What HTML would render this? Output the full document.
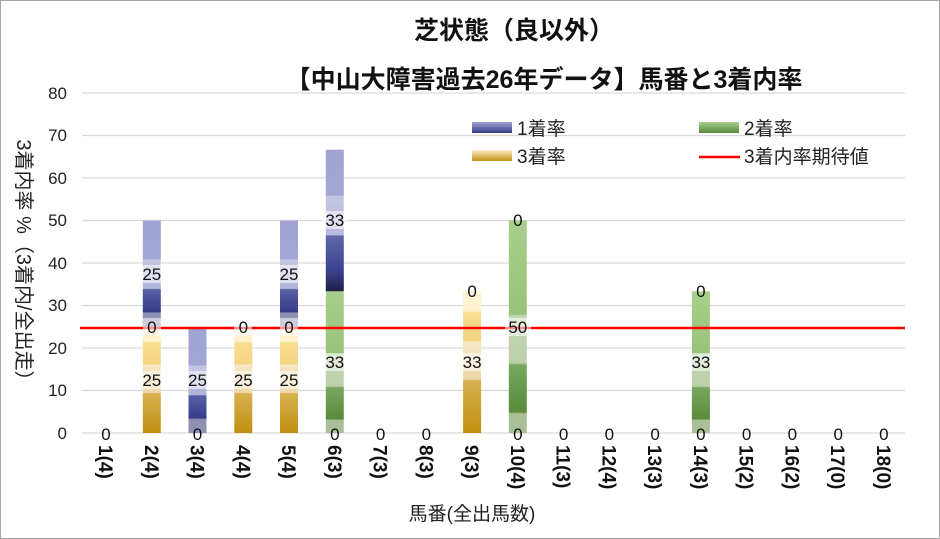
<!DOCTYPE html>
<html><head><meta charset="utf-8"><style>
html,body{margin:0;padding:0;background:#fff}
svg{display:block;font-family:"Liberation Sans","Noto Sans CJK JP",sans-serif}
</style></head><body>
<svg width="940" height="539" viewBox="0 0 940 539" xmlns="http://www.w3.org/2000/svg">
<defs>
<linearGradient id="gb" x1="0" y1="0" x2="0" y2="1">
<stop offset="0" stop-color="#a0a4d2"/><stop offset="0.36" stop-color="#a2a6d4"/>
<stop offset="0.37" stop-color="#c4c6e2"/><stop offset="0.64" stop-color="#b0b2d8"/>
<stop offset="0.65" stop-color="#5860a6"/><stop offset="0.86" stop-color="#363c88"/>
<stop offset="0.87" stop-color="#8a8eb0"/><stop offset="1" stop-color="#9094b4"/>
</linearGradient>
<linearGradient id="gb2" x1="0" y1="0" x2="0" y2="1">
<stop offset="0" stop-color="#a0a4d2"/><stop offset="0.32" stop-color="#a2a6d4"/>
<stop offset="0.33" stop-color="#c4c6e2"/><stop offset="0.6" stop-color="#b8bade"/>
<stop offset="0.61" stop-color="#6068a8"/><stop offset="0.85" stop-color="#3c4290"/><stop offset="1" stop-color="#1c2044"/>
</linearGradient>
<linearGradient id="gy" x1="0" y1="0" x2="0" y2="1">
<stop offset="0" stop-color="#fff4d6"/><stop offset="0.14" stop-color="#fff0cc"/>
<stop offset="0.15" stop-color="#f8de90"/><stop offset="0.35" stop-color="#f4d480"/>
<stop offset="0.36" stop-color="#f6e6c4"/><stop offset="0.62" stop-color="#eed8a8"/>
<stop offset="0.63" stop-color="#d8b050"/><stop offset="1" stop-color="#c09010"/>
</linearGradient>
<linearGradient id="gg" x1="0" y1="0" x2="0" y2="1">
<stop offset="0" stop-color="#a8d08c"/><stop offset="0.44" stop-color="#98c27c"/>
<stop offset="0.45" stop-color="#c4d6b4"/><stop offset="0.67" stop-color="#bcd0aa"/>
<stop offset="0.68" stop-color="#78a860"/><stop offset="0.9" stop-color="#5a8a3a"/>
<stop offset="0.91" stop-color="#a8bf98"/><stop offset="1" stop-color="#a8bf98"/>
</linearGradient>
<linearGradient id="lb" x1="0" y1="0" x2="0" y2="1"><stop offset="0" stop-color="#a0a4d2"/><stop offset="1" stop-color="#363c88"/></linearGradient>
<linearGradient id="lg" x1="0" y1="0" x2="0" y2="1"><stop offset="0" stop-color="#a8d08c"/><stop offset="1" stop-color="#5a8a3a"/></linearGradient>
<linearGradient id="ly" x1="0" y1="0" x2="0" y2="1"><stop offset="0" stop-color="#fff0cc"/><stop offset="1" stop-color="#c09010"/></linearGradient>
</defs>
<rect x="0.5" y="0.5" width="939" height="538" fill="#fff" stroke="#a6a6a6"/>
<text x="514" y="39" font-size="25" font-weight="bold" text-anchor="middle" fill="#111">芝状態（良以外）</text>
<text x="544" y="88" font-size="25" font-weight="bold" text-anchor="middle" fill="#111">【中山大障害過去26年データ】馬番と3着内率</text>
<g stroke="#d9d9d9" stroke-width="1.3">
<line x1="82" y1="93" x2="905" y2="93"/><line x1="82" y1="135.5" x2="905" y2="135.5"/>
<line x1="82" y1="178" x2="905" y2="178"/><line x1="82" y1="220.5" x2="905" y2="220.5"/>
<line x1="82" y1="263" x2="905" y2="263"/><line x1="82" y1="305.5" x2="905" y2="305.5"/>
<line x1="82" y1="348" x2="905" y2="348"/><line x1="82" y1="390.5" x2="905" y2="390.5"/>
<line x1="82" y1="433" x2="905" y2="433"/>
</g>
<g font-size="17" fill="#222" text-anchor="end">
<text x="67" y="99">80</text><text x="67" y="141">70</text><text x="67" y="184">60</text>
<text x="67" y="226">50</text><text x="67" y="269">40</text><text x="67" y="311">30</text>
<text x="67" y="354">20</text><text x="67" y="396">10</text><text x="67" y="439">0</text>
</g>
<text transform="translate(17,265) rotate(90)" font-size="20" text-anchor="middle" fill="#222">3着内率 %（3着内/全出走）</text>
<rect x="142.8" y="326.75" width="18" height="106.25" fill="url(#gy)"/>
<rect x="142.8" y="220.5" width="18" height="106.25" fill="url(#gb)"/>
<rect x="188.5" y="326.75" width="18" height="106.25" fill="url(#gb)"/>
<rect x="234.3" y="326.75" width="18" height="106.25" fill="url(#gy)"/>
<rect x="280" y="326.75" width="18" height="106.25" fill="url(#gy)"/>
<rect x="280" y="220.5" width="18" height="106.25" fill="url(#gb)"/>
<rect x="325.8" y="291.3" width="18" height="141.7" fill="url(#gg)"/>
<rect x="325.8" y="149.7" width="18" height="141.6" fill="url(#gb2)"/>
<rect x="463.1" y="291.3" width="18" height="141.7" fill="url(#gy)"/>
<rect x="508.8" y="220.5" width="18" height="212.5" fill="url(#gg)"/>
<rect x="691.9" y="291.3" width="18" height="141.7" fill="url(#gg)"/>
<line x1="80" y1="328" x2="905" y2="328" stroke="#ff0000" stroke-width="2.5"/>
<g fill="#fff" fill-opacity="0.55">
<rect x="139" y="371" width="26" height="18"/><rect x="139" y="265" width="26" height="18"/><rect x="143" y="318" width="18" height="18"/>
<rect x="185" y="371" width="26" height="18"/><rect x="230" y="371" width="26" height="18"/><rect x="234" y="318" width="18" height="18"/>
<rect x="276" y="371" width="26" height="18"/><rect x="276" y="265" width="26" height="18"/><rect x="280" y="318" width="18" height="18"/>
<rect x="322" y="353" width="26" height="18"/><rect x="322" y="211" width="26" height="18"/>
<rect x="459" y="353" width="26" height="18"/><rect x="505" y="318" width="26" height="18"/><rect x="688" y="353" width="26" height="18"/>
</g>
<g font-size="17" fill="#111" text-anchor="middle">
<text x="106" y="440">0</text>
<text x="151.8" y="386">25</text><text x="151.8" y="333">0</text><text x="151.8" y="280">25</text>
<text x="197.5" y="440">0</text><text x="197.5" y="386">25</text>
<text x="243.3" y="386">25</text><text x="243.3" y="333">0</text>
<text x="289" y="386">25</text><text x="289" y="333">0</text><text x="289" y="280">25</text>
<text x="334.8" y="440">0</text><text x="334.8" y="368">33</text><text x="334.8" y="226">33</text>
<text x="380.6" y="440">0</text><text x="426.3" y="440">0</text>
<text x="472.1" y="368">33</text><text x="472.1" y="297">0</text>
<text x="517.8" y="440">0</text><text x="517.8" y="333">50</text><text x="517.8" y="226">0</text>
<text x="563.6" y="440">0</text><text x="609.4" y="440">0</text><text x="655.1" y="440">0</text>
<text x="700.9" y="440">0</text><text x="700.9" y="368">33</text><text x="700.9" y="297">0</text>
<text x="746.6" y="440">0</text><text x="792.4" y="440">0</text><text x="838.2" y="440">0</text><text x="883.9" y="440">0</text>
</g>
<g font-size="19" font-weight="bold" fill="#111">
<text transform="translate(99,445) rotate(90)">1(4)</text>
<text transform="translate(144.8,445) rotate(90)">2(4)</text>
<text transform="translate(190.5,445) rotate(90)">3(4)</text>
<text transform="translate(236.3,445) rotate(90)">4(4)</text>
<text transform="translate(282,445) rotate(90)">5(4)</text>
<text transform="translate(327.8,445) rotate(90)">6(3)</text>
<text transform="translate(373.6,445) rotate(90)">7(3)</text>
<text transform="translate(419.3,445) rotate(90)">8(3)</text>
<text transform="translate(465.1,445) rotate(90)">9(3)</text>
<text transform="translate(510.8,445) rotate(90)">10(4)</text>
<text transform="translate(556.6,445) rotate(90)">11(3)</text>
<text transform="translate(602.4,445) rotate(90)">12(4)</text>
<text transform="translate(648.1,445) rotate(90)">13(3)</text>
<text transform="translate(693.9,445) rotate(90)">14(3)</text>
<text transform="translate(739.6,445) rotate(90)">15(2)</text>
<text transform="translate(785.4,445) rotate(90)">16(2)</text>
<text transform="translate(831.2,445) rotate(90)">17(0)</text>
<text transform="translate(876.9,445) rotate(90)">18(0)</text>
</g>
<text x="472" y="520" font-size="19" text-anchor="middle" fill="#222">馬番(全出馬数)</text>
<rect x="472" y="122" width="40" height="11" fill="url(#lb)"/>
<text x="517" y="135" font-size="19" fill="#222">1着率</text>
<rect x="699" y="122" width="40" height="11" fill="url(#lg)"/>
<text x="744" y="135" font-size="19" fill="#222">2着率</text>
<rect x="472" y="150" width="40" height="11" fill="url(#ly)"/>
<text x="517" y="163" font-size="19" fill="#222">3着率</text>
<line x1="699" y1="157" x2="740" y2="157" stroke="#ff0000" stroke-width="2.5"/>
<text x="744" y="163" font-size="19" fill="#222">3着内率期待値</text>
</svg>
</body></html>
